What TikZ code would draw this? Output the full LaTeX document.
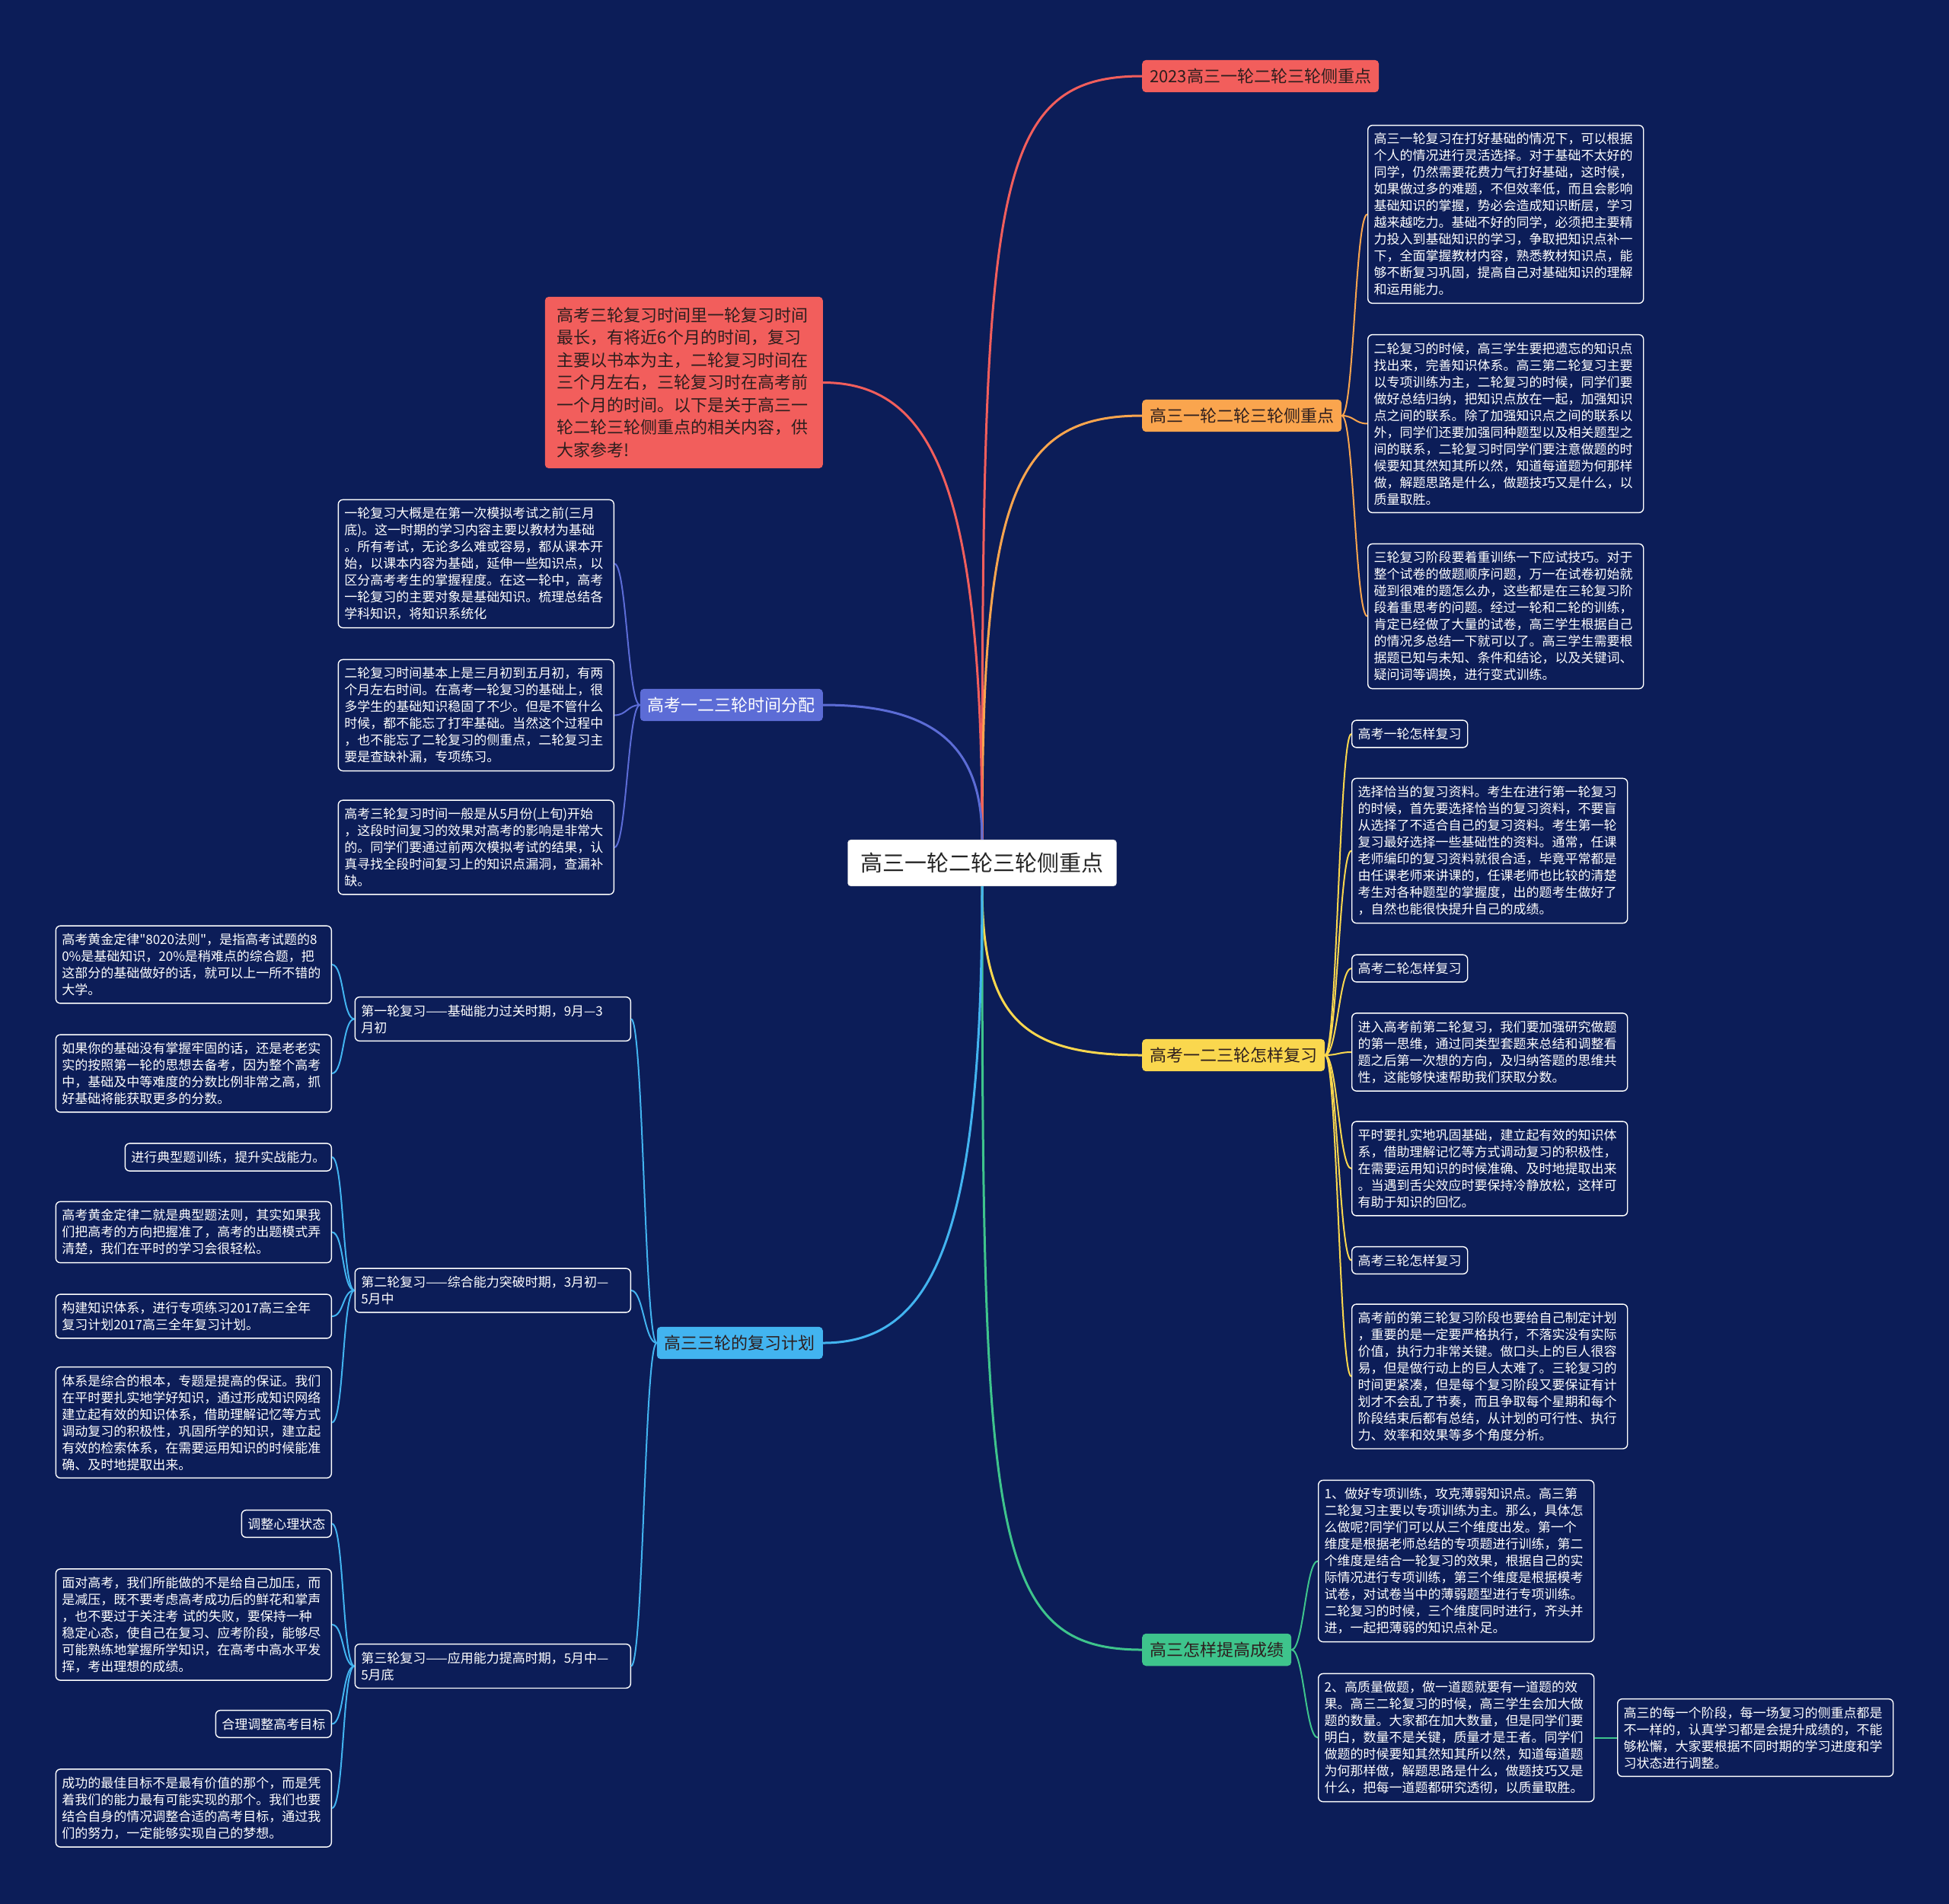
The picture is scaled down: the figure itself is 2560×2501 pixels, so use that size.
\documentclass[tikz,border=0pt]{standalone}
\usepackage{fontspec}
\setmainfont{Noto Sans CJK SC}[Ligatures=TeXOff]
\definecolor{bgnavy}{RGB}{12,29,88}
\definecolor{coral}{RGB}{242,94,92}
\definecolor{amber}{RGB}{250,165,78}
\definecolor{sun}{RGB}{250,215,78}
\definecolor{mint}{RGB}{62,196,140}
\definecolor{sky}{RGB}{66,180,240}
\definecolor{indigo}{RGB}{92,108,214}
\definecolor{inkdark}{RGB}{45,30,30}

\begin{document}
\begin{tikzpicture}[x=1pt,y=-1pt,
  leaf/.style={draw=white, line width=1.4pt, rounded corners=6pt, fill=bgnavy, text=white,
    font=\fontsize{17}{22}\selectfont, align=left, inner xsep=8pt, inner ysep=10pt},
  para/.style={leaf, text width=346pt},
  branch/.style={rounded corners=5pt, font=\fontsize{22}{28}\selectfont, inner xsep=10pt, inner ysep=11pt, text=inkdark},
  link/.style={line width=3pt},
  twig/.style={line width=2pt}]
  \fill[bgnavy] (0,0) rectangle (2560,2501);
  \useasboundingbox (0,0) rectangle (2560,2501);

  % centre
  \node[draw=gray!40, fill=white, rounded corners=4pt, font=\fontsize{29}{35}\selectfont, text=black!85, inner xsep=17pt, inner ysep=17pt] (ctr) at (1290,1133.5) {高三一轮二轮三轮侧重点};

  % right branches
  \node[branch, fill=coral, anchor=west] (b2023) at (1500,100) {2023高三一轮二轮三轮侧重点};
  \node[branch, fill=amber, anchor=west] (bfocus) at (1500,546) {高三一轮二轮三轮侧重点};
  \node[branch, fill=sun, anchor=west] (bhow) at (1500,1386) {高考一二三轮怎样复习};
  \node[branch, fill=mint, anchor=west] (bscore) at (1500,2167) {高三怎样提高成绩};

  % left branches
  \node[branch, fill=coral, anchor=east, align=left, font=\fontsize{22}{29.5}\selectfont, text width=333pt, inner xsep=16pt, inner ysep=14pt] (intro) at (1081,502.5) {高考三轮复习时间里一轮复习时间\\最长，有将近6个月的时间，复习\\主要以书本为主，二轮复习时间在\\三个月左右，三轮复习时在高考前\\一个月的时间。以下是关于高三一\\轮二轮三轮侧重点的相关内容，供\\大家参考!};
  \node[branch, fill=indigo, text=white, anchor=east] (tdist) at (1081,926) {高考一二三轮时间分配};
  \node[branch, fill=sky, anchor=east] (plan) at (1081,1764) {高三三轮的复习计划};

  % orange leaves
  \node[para, anchor=west] (r1) at (1796,281.5) {高三一轮复习在打好基础的情况下，可以根据\\个人的情况进行灵活选择。对于基础不太好的\\同学，仍然需要花费力气打好基础，这时候，\\如果做过多的难题，不但效率低，而且会影响\\基础知识的掌握，势必会造成知识断层，学习\\越来越吃力。基础不好的同学，必须把主要精\\力投入到基础知识的学习，争取把知识点补一\\下，全面掌握教材内容，熟悉教材知识点，能\\够不断复习巩固，提高自己对基础知识的理解\\和运用能力。};
  \node[para, anchor=west] (r2) at (1796,556.5) {二轮复习的时候，高三学生要把遗忘的知识点\\找出来，完善知识体系。高三第二轮复习主要\\以专项训练为主，二轮复习的时候，同学们要\\做好总结归纳，把知识点放在一起，加强知识\\点之间的联系。除了加强知识点之间的联系以\\外，同学们还要加强同种题型以及相关题型之\\间的联系，二轮复习时同学们要注意做题的时\\候要知其然知其所以然，知道每道题为何那样\\做，解题思路是什么，做题技巧又是什么，以\\质量取胜。};
  \node[para, anchor=west] (r3) at (1796,809.5) {三轮复习阶段要着重训练一下应试技巧。对于\\整个试卷的做题顺序问题，万一在试卷初始就\\碰到很难的题怎么办，这些都是在三轮复习阶\\段着重思考的问题。经过一轮和二轮的训练，\\肯定已经做了大量的试卷，高三学生根据自己\\的情况多总结一下就可以了。高三学生需要根\\据题已知与未知、条件和结论，以及关键词、\\疑问词等调换，进行变式训练。};

  % yellow leaves
  \node[leaf, anchor=west] (y1) at (1775,964) {高考一轮怎样复习};
  \node[para, anchor=west] (y2) at (1775,1117.5) {选择恰当的复习资料。考生在进行第一轮复习\\的时候，首先要选择恰当的复习资料，不要盲\\从选择了不适合自己的复习资料。考生第一轮\\复习最好选择一些基础性的资料。通常，任课\\老师编印的复习资料就很合适，毕竟平常都是\\由任课老师来讲课的，任课老师也比较的清楚\\考生对各种题型的掌握度，出的题考生做好了\\，自然也能很快提升自己的成绩。};
  \node[leaf, anchor=west] (y3) at (1775,1272) {高考二轮怎样复习};
  \node[para, anchor=west] (y4) at (1775,1382) {进入高考前第二轮复习，我们要加强研究做题\\的第一思维，通过同类型套题来总结和调整看\\题之后第一次想的方向，及归纳答题的思维共\\性，这能够快速帮助我们获取分数。};
  \node[para, anchor=west] (y5) at (1775,1535) {平时要扎实地巩固基础，建立起有效的知识体\\系，借助理解记忆等方式调动复习的积极性，\\在需要运用知识的时候准确、及时地提取出来\\。当遇到舌尖效应时要保持冷静放松，这样可\\有助于知识的回忆。};
  \node[leaf, anchor=west] (y6) at (1775,1655.5) {高考三轮怎样复习};
  \node[para, anchor=west] (y7) at (1775,1808) {高考前的第三轮复习阶段也要给自己制定计划\\，重要的是一定要严格执行，不落实没有实际\\价值，执行力非常关键。做口头上的巨人很容\\易，但是做行动上的巨人太难了。三轮复习的\\时间更紧凑，但是每个复习阶段又要保证有计\\划才不会乱了节奏，而且争取每个星期和每个\\阶段结束后都有总结，从计划的可行性、执行\\力、效率和效果等多个角度分析。};

  % green leaves
  \node[para, anchor=west] (g1) at (1731,2050.5) {1、做好专项训练，攻克薄弱知识点。高三第\\二轮复习主要以专项训练为主。那么，具体怎\\么做呢?同学们可以从三个维度出发。第一个\\维度是根据老师总结的专项题进行训练，第二\\个维度是结合一轮复习的效果，根据自己的实\\际情况进行专项训练，第三个维度是根据模考\\试卷，对试卷当中的薄弱题型进行专项训练。\\二轮复习的时候，三个维度同时进行，齐头并\\进，一起把薄弱的知识点补足。};
  \node[para, anchor=west] (g2) at (1731,2282.5) {2、高质量做题，做一道题就要有一道题的效\\果。高三二轮复习的时候，高三学生会加大做\\题的数量。大家都在加大数量，但是同学们要\\明白，数量不是关键，质量才是王者。同学们\\做题的时候要知其然知其所以然，知道每道题\\为何那样做，解题思路是什么，做题技巧又是\\什么，把每一道题都研究透彻，以质量取胜。};
  \node[para, anchor=west] (g3) at (2124,2282.5) {高三的每一个阶段，每一场复习的侧重点都是\\不一样的，认真学习都是会提升成绩的，不能\\够松懈，大家要根据不同时期的学习进度和学\\习状态进行调整。};

  % indigo leaves
  \node[para, anchor=east] (p1) at (807,740.5) {一轮复习大概是在第一次模拟考试之前(三月\\底)。这一时期的学习内容主要以教材为基础\\。所有考试，无论多么难或容易，都从课本开\\始，以课本内容为基础，延伸一些知识点，以\\区分高考考生的掌握程度。在这一轮中，高考\\一轮复习的主要对象是基础知识。梳理总结各\\学科知识，将知识系统化};
  \node[para, anchor=east] (p2) at (807,939.5) {二轮复习时间基本上是三月初到五月初，有两\\个月左右时间。在高考一轮复习的基础上，很\\多学生的基础知识稳固了不少。但是不管什么\\时候，都不能忘了打牢基础。当然这个过程中\\，也不能忘了二轮复习的侧重点，二轮复习主\\要是查缺补漏，专项练习。};
  \node[para, anchor=east] (p3) at (807,1113) {高考三轮复习时间一般是从5月份(上旬)开始\\，这段时间复习的效果对高考的影响是非常大\\的。同学们要通过前两次模拟考试的结果，认\\真寻找全段时间复习上的知识点漏洞，查漏补\\缺。};

  % sky: three rounds
  \node[para, anchor=east] (s1) at (829,1338.5) {第一轮复习——基础能力过关时期，9月—3\\月初};
  \node[para, anchor=east] (s2) at (829,1695) {第二轮复习——综合能力突破时期，3月初—\\5月中};
  \node[para, anchor=east] (s3) at (829,2188.5) {第三轮复习——应用能力提高时期，5月中—\\5月底};

  \node[para, anchor=east] (s1a) at (436,1267) {高考黄金定律"8020法则"，是指高考试题的8\\0\%是基础知识，20\%是稍难点的综合题，把\\这部分的基础做好的话，就可以上一所不错的\\大学。};
  \node[para, anchor=east] (s1b) at (436,1410) {如果你的基础没有掌握牢固的话，还是老老实\\实的按照第一轮的思想去备考，因为整个高考\\中，基础及中等难度的分数比例非常之高，抓\\好基础将能获取更多的分数。};
  \node[leaf, anchor=east] (s2a) at (436,1520) {进行典型题训练，提升实战能力。};
  \node[para, anchor=east] (s2b) at (436,1618.5) {高考黄金定律二就是典型题法则，其实如果我\\们把高考的方向把握准了，高考的出题模式弄\\清楚，我们在平时的学习会很轻松。};
  \node[para, anchor=east] (s2c) at (436,1729) {构建知识体系，进行专项练习2017高三全年\\复习计划2017高三全年复习计划。};
  \node[para, anchor=east] (s2d) at (436,1868.5) {体系是综合的根本，专题是提高的保证。我们\\在平时要扎实地学好知识，通过形成知识网络\\建立起有效的知识体系，借助理解记忆等方式\\调动复习的积极性，巩固所学的知识，建立起\\有效的检索体系，在需要运用知识的时候能准\\确、及时地提取出来。};
  \node[leaf, anchor=east] (s3a) at (436,2001.5) {调整心理状态};
  \node[para, anchor=east] (s3b) at (436,2134) {面对高考，我们所能做的不是给自己加压，而\\是减压，既不要考虑高考成功后的鲜花和掌声\\，也不要过于关注考 试的失败，要保持一种\\稳定心态，使自己在复习、应考阶段，能够尽\\可能熟练地掌握所学知识，在高考中高水平发\\挥，考出理想的成绩。};
  \node[leaf, anchor=east] (s3c) at (436,2264.5) {合理调整高考目标};
  \node[para, anchor=east] (s3d) at (436,2375) {成功的最佳目标不是最有价值的那个，而是凭\\着我们的能力最有可能实现的那个。我们也要\\结合自身的情况调整合适的高考目标，通过我\\们的努力，一定能够实现自己的梦想。};

  % main links
  \draw[link, coral] (ctr.north) .. controls +(0,-850) and +(-200,0) .. (b2023.west);
  \draw[link, amber] (ctr.north) .. controls +(0,-450) and +(-170,0) .. (bfocus.west);
  \draw[link, sun] (ctr.south) .. controls +(0,170) and +(-160,0) .. (bhow.west);
  \draw[link, mint] (ctr.south) .. controls +(0,850) and +(-200,0) .. (bscore.west);
  \draw[link, coral] (intro.east) .. controls +(150,0) and +(0,-450) .. (ctr.north);
  \draw[link, indigo] (tdist.east) .. controls +(150,0) and +(0,-120) .. (ctr.north);
  \draw[link, sky] (plan.east) .. controls +(150,0) and +(0,450) .. (ctr.south);

  % twigs
  \foreach \leafname in {r1,r2,r3}
    \draw[twig, amber] (bfocus.east) .. controls +(16,0) and +(-16,0) .. (\leafname.west);
  \foreach \leafname in {y1,y2,y3,y4,y5,y6,y7}
    \draw[twig, sun] (bhow.east) .. controls +(16,0) and +(-16,0) .. (\leafname.west);
  \foreach \leafname in {g1,g2}
    \draw[twig, mint] (bscore.east) .. controls +(16,0) and +(-16,0) .. (\leafname.west);
  \draw[twig, mint] (g2.east) -- (g3.west);
  \foreach \leafname in {p1,p2,p3}
    \draw[twig, indigo] (tdist.west) .. controls +(-16,0) and +(16,0) .. (\leafname.east);
  \foreach \leafname in {s1,s2,s3}
    \draw[twig, sky] (plan.west) .. controls +(-16,0) and +(16,0) .. (\leafname.east);
  \foreach \leafname in {s1a,s1b}
    \draw[twig, sky] (s1.west) .. controls +(-16,0) and +(16,0) .. (\leafname.east);
  \foreach \leafname in {s2a,s2b,s2c,s2d}
    \draw[twig, sky] (s2.west) .. controls +(-16,0) and +(16,0) .. (\leafname.east);
  \foreach \leafname in {s3a,s3b,s3c,s3d}
    \draw[twig, sky] (s3.west) .. controls +(-16,0) and +(16,0) .. (\leafname.east);
\end{tikzpicture}
\end{document}
